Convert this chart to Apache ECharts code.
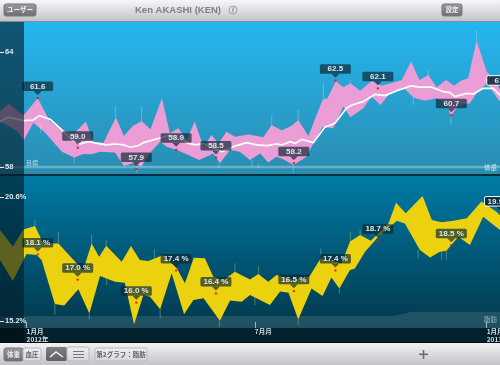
<!DOCTYPE html>
<html><head><meta charset="utf-8">
<style>html,body{margin:0;padding:0;background:#fff}#c{width:500px;height:365px;filter:blur(0.35px)}</style>
<script src="https://cdn.jsdelivr.net/npm/echarts@6/dist/echarts.min.js"></script></head>
<body><div id="c"></div>
<script>
const weightTicks=[58,64];
const fatTicks=[15.2,20.6];
const monthWeeks=[0,25.8,52];
const monthLabels=['1月月\n2012年','7月月','1月月\n2013年'];
const weightUpper=[[-3,60.89],[-2,61.32],[-1,60.89],[-0.3,60.71],[1.26,61.58],[2.65,60.37],[4,59.93],[5.4,59.76],[6.7,60.37],[7.5,59.32],[8.7,59.27],[10.1,60.59],[11,59.62],[12,60.14],[13,60.4],[14,59.97],[15.3,61.58],[16.2,59.76],[17.15,60.02],[18.1,59.41],[19,60.37],[20,59.06],[20.9,59.67],[21.7,59.23],[22.6,59.84],[23.55,59.58],[25.05,59.7],[26,59.62],[26.75,59.55],[27.7,60.19],[28.85,59.9],[30,60.16],[30.7,60.45],[31.85,59.62],[33.45,61.5],[34,61.58],[34.95,62.49],[35.8,62.16],[36.6,62.37],[37.7,61.98],[39,62.49],[40.15,62.23],[42.4,62.54],[43.45,63.5],[44.4,62.54],[45.4,62.8],[46.35,62.16],[47.4,62.54],[48.3,62.23],[49.05,62.49],[49.9,62.63],[50.85,64.59],[52,62.97],[52.95,62.54],[53.9,61.67]];
const weightLower=[[-3,60.37],[-1.87,60.1],[-1,59.84],[-0.3,59.41],[0.77,60.31],[2,59.84],[3,59.32],[4,58.8],[5.4,58.5],[6.4,58.68],[7.35,58.66],[8.3,58.8],[10,58.75],[11,58.05],[12,58.19],[13,58.02],[13.75,58.63],[15.1,59.32],[15.85,59.06],[17,58.89],[17.9,58.71],[19.5,58.37],[21.1,58.71],[21.85,58.19],[23,58.89],[24.1,58.8],[25.25,58.37],[26.4,58.71],[27.3,58.23],[28.25,58.54],[29,58.4],[30.15,58.1],[31.65,58.54],[32.4,59.23],[33.45,60.1],[34.65,60.02],[35.8,61.15],[36.6,60.59],[38.05,61.06],[39,61.67],[40,61.23],[41.05,61.84],[42.55,62.16],[43.7,61.63],[45,61.46],[46.35,61.58],[47.45,61.32],[47.95,60.63],[48.8,61.23],[50.1,61.32],[50.85,61.84],[52,62.37],[53.9,61.15]];
const weightMean=[[-3,60.37],[-2,60.59],[-0.3,60.42],[0.75,60.45],[1.45,60.68],[2.65,60.49],[4,59.93],[5.1,59.41],[6.05,59.2],[7,59.32],[8,59.23],[9,59.15],[10,59.2],[11,59.15],[11.7,59.03],[12.6,59.11],[13.2,59.27],[15,59.5],[16.2,59.67],[17.35,59.5],[18.3,59.23],[19.2,59.15],[20,59.23],[21.1,58.97],[22.05,58.8],[23.35,59.06],[24.85,59.27],[26,59.15],[27.15,59.11],[28.25,59.2],[28.85,59.15],[29.75,59.32],[30.35,59.23],[31.1,59.44],[32.4,59.27],[33.7,60.07],[34.85,60.28],[36.15,61.06],[36.75,61.23],[38.05,61.41],[39.4,61.79],[40.5,61.72],[41.85,61.98],[43.45,62.23],[44.45,62.16],[45.8,62.16],[47.1,61.93],[47.85,61.88],[48.4,61.67],[49.75,61.84],[50.5,61.81],[51.6,62.1],[52.75,62.1],[54.05,61.5]];
const fatUpper=[[-3,19.16],[-1.55,18.44],[-0.35,19.19],[0.95,19.34],[1.9,18.58],[3.6,18.58],[5.5,17.78],[6.4,17.42],[7.35,18.58],[8.2,18],[9,18.48],[10.75,17.78],[11.8,18.47],[12.8,17.86],[13.75,17.81],[15.45,18.07],[17,17.49],[17.9,16.84],[18.9,17.96],[20.15,17.93],[21.1,17.13],[22.25,16.99],[23.55,17.35],[25.25,17.01],[26.2,17.25],[27.3,16.91],[28.25,17.2],[30.15,16.99],[31.95,17.13],[33.25,17.93],[35.6,17.71],[36.55,18.66],[37.7,18.95],[38.9,18.7],[40.9,19.45],[41.75,20.35],[42.85,19.89],[44.75,20.64],[45.8,19.6],[46.9,19.5],[48.25,19.57],[49.75,19.67],[51.4,20.4],[53.1,19.96],[54.05,19.6]];
const fatLower=[[-3,17.86],[-1.55,16.94],[-0.35,17.86],[0,18.12],[1.15,18.07],[1.7,17.86],[3.2,15.94],[4.25,15.87],[5.85,16.58],[7.1,15.53],[8.3,17.16],[10,16.91],[11.1,16.87],[12.15,15.05],[13.2,16.33],[13.95,16.26],[15.1,15.71],[16.4,17.28],[17.8,15.49],[18.85,16.11],[20,16.19],[21.85,15.21],[23,16.09],[24.3,16.04],[25.25,16.33],[27.5,15.9],[28.65,16.48],[29.6,16.43],[30.7,15.27],[32.2,16.62],[33.45,16.29],[34.45,17.09],[35.35,16.62],[36.55,17.42],[37.1,17.49],[38.25,18.22],[39.75,18.87],[41.85,19.57],[42.75,19.45],[44.45,18.29],[45.6,17.97],[46.7,18.22],[47.45,18.26],[48.8,18.87],[50.1,18.51],[51.6,19.74],[53.5,19.16],[54.05,19.09]];
const weightWhiskers=[[1.6,59.76,60.24],[5.4,58.19,58.5],[10.05,60.59,61.15],[13,60.4,61.15],[12.45,57.7,58.05],[21.75,57.93,58.19],[25.5,58.02,58.37],[26.2,57.93,58.19],[27.7,60.19,60.71],[30.7,60.45,60.97],[33.55,61.5,62.37],[36.6,62.37,62.54],[45.4,62.8,63.06],[50.85,64.59,65.15],[30.15,57.7,58.1],[47.95,60.19,60.63],[43.7,61.23,61.63]];
const fatWhiskers=[[0.95,19.34,19.6],[3.6,18.58,19.09],[7.35,18.58,18.95],[9,18.48,18.73],[14.45,17.86,18.34],[3.2,15.46,15.94],[7.1,15.27,15.53],[9.05,16.77,17.13],[15.1,15.32,15.71],[21.8,14.95,15.21],[23.55,17.35,17.71],[25.8,15.9,16.33],[26.2,17.25,17.57],[30.7,15.03,15.27],[33.25,17.93,18.36],[35.35,16.4,16.62],[36.6,18.66,19.09],[37.7,18.95,19.16],[44.25,17.93,18.29],[46.9,17.86,18.22],[47.45,17.86,18.26]];
const weightPins=[[1.26,61.6],[5.78,59.0],[12.4,57.9],[16.9,58.9],[21.4,58.5],[30.2,58.2],[34.9,62.5],[39.7,62.1],[48,60.7],[53.75,61.9,1]];
const fatPins=[[1.26,18.1],[5.78,17.0],[12.4,16.0],[16.9,17.4],[21.4,16.4],[30.2,16.5],[34.9,17.4],[39.7,18.7],[48,18.5],[53.5,19.9,1]];
const fatFloor=[[-3,15.42],[41.5,15.42],[43.5,15.6],[54,15.6]];
const weightGoal=[[-3,58],[54,58]];

const SANS='"Liberation Sans",Arial,sans-serif';
const CJK='"Noto Sans CJK JP","Liberation Sans",sans-serif';
function band(xi,yi,upper,lower,color){return{type:'custom',xAxisIndex:xi,yAxisIndex:yi,z:3,silent:true,clip:false,data:[0],
 renderItem:(p,api)=>({type:'polygon',shape:{points:upper.concat(lower.slice().reverse()).map(d=>api.coord(d))},style:{fill:color}})};}
function whisk(xi,yi,rows,color){return{type:'custom',xAxisIndex:xi,yAxisIndex:yi,z:3,silent:true,data:rows,
 renderItem:(p,api)=>{const a=api.coord([api.value(0),api.value(1)]),b=api.coord([api.value(0),api.value(2)]);
  return{type:'line',shape:{x1:a[0],y1:a[1],x2:b[0],y2:b[1]},style:{stroke:color,lineWidth:1.2}};}};}
function pins(xi,yi,rows,suffix){return{type:'custom',xAxisIndex:xi,yAxisIndex:yi,z:6,silent:true,clip:false,data:rows.map(r=>[r[0],r[1],r[2]||0]),
 renderItem:(p,api)=>{const c=api.coord([api.value(0),api.value(1)]),on=api.value(2),x=c[0],y=c[1];
  const fill=on?'rgba(10,35,50,0.85)':'rgba(12,38,52,0.68)';
  return{type:'group',children:[
   {type:'rect',shape:{x:x-1,y:y-1,width:2,height:2},style:{fill:'#f01818'}},
   {type:'polygon',shape:{points:[[x-4,y-7],[x+4,y-7],[x,y-3]]},style:{fill:fill}},
   {type:'rect',shape:{x:x-15.5,y:y-16.5,width:31,height:9.5,r:1.5},style:{fill:fill,stroke:on?'#fff':null,lineWidth:on?1:0}},
   {type:'text',x:x,y:y-11.5,style:{text:api.value(1).toFixed(1)+suffix,fill:'#dfe6e8',font:'bold 8px '+SANS,align:'center',verticalAlign:'middle'}}
  ]};}};}
function vaxis(gi,min,max,ticks,fmt){return{type:'value',gridIndex:gi,min:min,max:max,z:22,splitLine:{show:false},axisLine:{show:false,onZero:false},
 axisTick:{show:true,inside:true,length:4,lineStyle:{color:'#e8eef0',width:1},customValues:ticks},
 axisLabel:{inside:true,margin:5,color:'#dfe8ec',fontFamily:SANS,fontWeight:'bold',fontSize:7.5,formatter:fmt,customValues:ticks}};}
function rect(x,y,w,h,fill,z,extra){return Object.assign({type:'rect',shape:{x,y,width:w,height:h},style:{fill},z:z,silent:true},extra||{});}
function grad(a,b){return{type:'linear',x:0,y:0,x2:0,y2:1,colorStops:[{offset:0,color:a},{offset:1,color:b}]};}
function btn(x,y,w,h,label,dark){return[
 {type:'rect',shape:{x,y,width:w,height:h,r:2},style:{fill:dark?grad('#9a9c9f','#6a6c70'):grad('#eeeff1','#d5d6da'),stroke:dark?'#77797c':'#b8babe',lineWidth:1},z:30,silent:true},
 {type:'text',x:x+w/2,y:y+h/2,style:{text:label,fill:dark?'#f2f2f2':'#5c5f64',font:'bold 6.5px '+CJK,align:'center',verticalAlign:'middle'},z:31,silent:true}];}

const chart=echarts.init(document.getElementById('c'),null,{renderer:'canvas'});
chart.setOption({animation:false,
 grid:[{left:0,right:0,top:22,height:152,show:true,borderWidth:0,outerBoundsMode:'none',backgroundColor:grad('#25b6f0','#2a8db0')},
       {left:0,right:0,top:176,height:152,show:true,borderWidth:0,outerBoundsMode:'none',backgroundColor:grad('#007ba6','#02384b')}],
 xAxis:[{type:'value',gridIndex:0,min:-3,max:53.5,show:false},
  {type:'value',gridIndex:1,min:-3,max:53.5,z:22,splitLine:{show:false},axisLine:{show:false},
   axisTick:{show:true,inside:true,length:6,lineStyle:{color:'#9fb8c0',width:1},customValues:monthWeeks},
   axisLabel:{show:true,margin:0,align:'left',color:'#d8dfe2',fontFamily:CJK,fontWeight:'bold',fontSize:6.5,lineHeight:7.5,hideOverlap:false,showMinLabel:true,showMaxLabel:true,
    customValues:monthWeeks,formatter:v=>monthLabels[monthWeeks.indexOf(v)]}}],
 yAxis:[vaxis(0,57.635,65.56,weightTicks,v=>String(v)),
        vaxis(1,14.895,21.515,fatTicks,v=>v.toFixed(1)+'%')],
 series:[
  {type:'line',xAxisIndex:1,yAxisIndex:1,data:fatFloor,symbol:'none',lineStyle:{width:0},areaStyle:{color:'rgba(255,255,255,0.17)',origin:'start'},z:2,silent:true},
  band(0,0,weightUpper,weightLower,'#eb9dd5'),
  whisk(0,0,weightWhiskers,'rgba(255,255,255,0.22)'),
  {type:'line',xAxisIndex:0,yAxisIndex:0,data:weightGoal,symbol:'none',lineStyle:{width:2.5,color:'rgba(255,255,255,0.3)'},z:3,silent:true},
  {type:'line',xAxisIndex:0,yAxisIndex:0,data:weightMean,symbol:'none',lineStyle:{width:1.7,color:'#ffffff'},z:4,silent:true},
  band(1,1,fatUpper,fatLower,'#ecd20e'),
  whisk(1,1,fatWhiskers,'rgba(190,205,120,0.35)'),
  pins(0,0,weightPins,''),
  pins(1,1,fatPins,' %')
 ],
 graphic:{elements:[
  rect(0,174,500,2,'#0a2e3c',1),
  rect(0,328,500,15,'#04222e',1),
  rect(0,22,24,306,'rgba(2,28,40,0.62)',20),
  rect(0,328,24,15,'rgba(0,0,0,0.4)',20),
  rect(0,0,500,22,grad('#f7f7f9','#bfc1c6'),25),
  rect(0,21,500,1,'#8a8c90',26),
  rect(0,342,500,1,'#0b0b0b',25),
  rect(0,343,500,22,grad('#f2f2f4','#c2c4c9'),25),
  ...btn(4,4,32,12,'ユーザー',true),
  ...btn(192+250,4,20,12,'設定',true),
  {type:'text',x:178,y:10.5,style:{text:'Ken AKASHI (KEN)',fill:'#7c7f84',font:'bold 9.5px '+SANS,align:'center',verticalAlign:'middle'},z:31,silent:true},
  {type:'circle',shape:{cx:233,cy:10,r:4},style:{fill:'none',stroke:'#8c8f94',lineWidth:0.8},z:31,silent:true},
  {type:'text',x:233,y:10,style:{text:'i',fill:'#7c7f84',font:'italic bold 7px '+SANS,align:'center',verticalAlign:'middle'},z:31,silent:true},
  {type:'text',x:26,y:162.5,style:{text:'目標',fill:'rgba(225,240,245,0.75)',font:'6px '+CJK,verticalAlign:'middle'},z:12,silent:true},
  {type:'text',x:484,y:168,style:{text:'体重',fill:'rgba(235,245,248,0.85)',font:'6.5px '+CJK,verticalAlign:'middle'},z:12,silent:true},
  {type:'text',x:484,y:320,style:{text:'脂肪',fill:'rgba(225,240,245,0.6)',font:'6.5px '+CJK,verticalAlign:'middle'},z:12,silent:true},
  ...btn(4,348,19,13,'体重',true),
  ...btn(23,348,18,13,'血圧',false),
  {type:'rect',shape:{x:46,y:347,width:21,height:14,r:2},style:{fill:grad('#7e8084','#5e6064')},z:30,silent:true},
  {type:'polyline',shape:{points:[[50,357],[56,352],[63,357]]},style:{stroke:'#f2f2f2',fill:'none',lineWidth:1.5},z:31,silent:true},
  {type:'rect',shape:{x:67,y:347,width:22,height:14,r:2},style:{fill:grad('#eeeff1','#d5d6da'),stroke:'#b8babe',lineWidth:1},z:30,silent:true},
  rect(73,351,11,1,'#777a7e',31),rect(73,354,11,1,'#777a7e',31),rect(73,357,11,1,'#777a7e',31),
  ...btn(95,348,52,13,'第2グラフ：脂肪',false),
  rect(419,353.5,9,1.6,'#6a6c70',31),rect(422.7,350,1.6,9,'#6a6c70',31)
 ]}
});
</script></body></html>
